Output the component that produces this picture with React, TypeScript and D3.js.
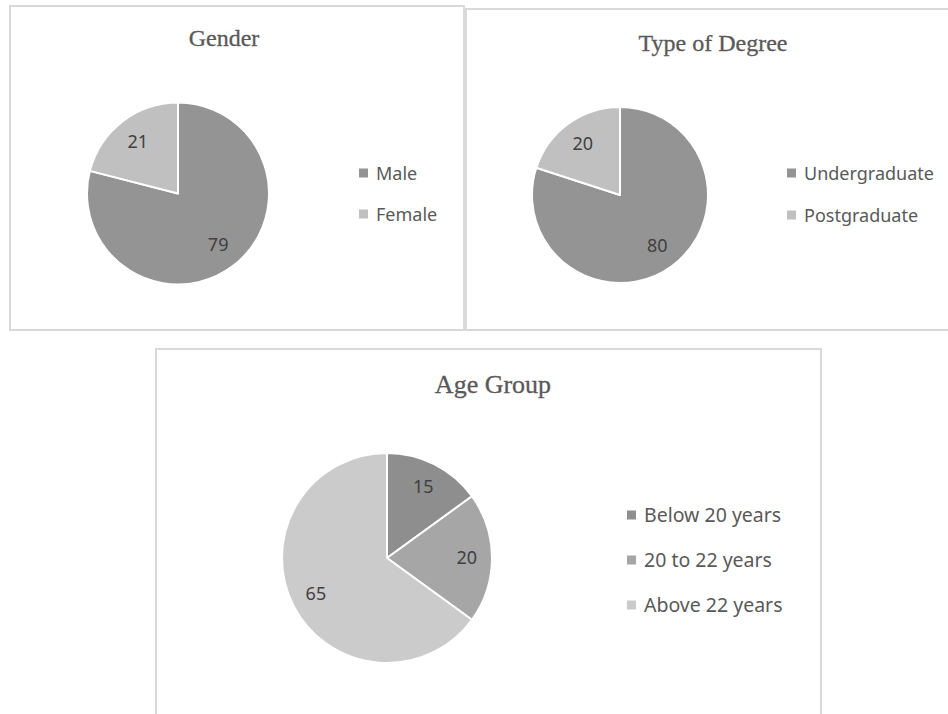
import React from "react";
import * as d3 from "d3";

const genderLabels = ["Male", "Female"];
const genderValues = [79, 21];
const degreeLabels = ["Undergraduate", "Postgraduate"];
const degreeValues = [80, 20];
const ageLabels = ["Below 20 years", "20 to 22 years", "Above 22 years"];
const ageValues = [15, 20, 65];

const twoColors = ["#949494", "#c0c0c0"];
const threeColors = ["#8e8e8e", "#a6a6a6", "#cbcbcb"];

type PieProps = {
  title: string;
  labels: string[];
  values: number[];
  colors: string[];
  box: [number, number, number, number];
  cx: number;
  cy: number;
  r: number;
  labelFactor: number;
  titleX: number;
  titleY: number;
  titleSize: number;
  legendX: number;
  legendY: number;
  legendStep: number;
  legendSize: number;
};

function PieChart(p: PieProps) {
  const pie = d3.pie<number>().sort(null).value((d) => d);
  const arcs = pie(p.values);
  const arc = d3.arc<d3.PieArcDatum<number>>().innerRadius(0).outerRadius(p.r);
  const labelArc = d3
    .arc<d3.PieArcDatum<number>>()
    .innerRadius(p.r * p.labelFactor)
    .outerRadius(p.r * p.labelFactor);
  const color = d3.scaleOrdinal<string, string>().domain(p.labels).range(p.colors);
  const [bx, by, bw, bh] = p.box;
  return (
    <g>
      <rect x={bx} y={by} width={bw} height={bh} fill="#ffffff" stroke="#d9d9d9" strokeWidth={2} />
      <text
        x={p.titleX}
        y={p.titleY}
        textAnchor="middle"
        fontFamily="'Liberation Serif', 'Times New Roman', serif"
        fontSize={p.titleSize}
        fill="#595959"
        stroke="#595959"
        strokeWidth={0.3}
      >
        {p.title}
      </text>
      <g transform={`translate(${p.cx},${p.cy})`}>
        {arcs.map((a, i) => (
          <path key={i} d={arc(a) || ""} fill={color(p.labels[i])} stroke="#ffffff" strokeWidth={2} strokeLinejoin="round" />
        ))}
        {arcs.map((a, i) => {
          const [x, y] = labelArc.centroid(a);
          return (
            <text
              key={"l" + i}
              x={x}
              y={y + 6}
              textAnchor="middle"
              fontFamily="'Noto Sans', sans-serif"
              fontSize={18}
              fill="#404040"
            >
              {p.values[i]}
            </text>
          );
        })}
      </g>
      {p.labels.map((l, i) => (
        <g key={"lg" + i} transform={`translate(${p.legendX},${p.legendY + i * p.legendStep})`}>
          <rect x={-4} y={-4.5} width={9} height={9} fill={color(l)} />
          <text
            x={13}
            y={6.5}
            fontFamily="'Noto Sans', sans-serif"
            fontSize={p.legendSize}
            fill="#595959"
          >
            {l}
          </text>
        </g>
      ))}
    </g>
  );
}

export default function App() {
  return (
    <svg
      width={948}
      height={714}
      style={{ position: "absolute", left: 0, top: 0, background: "#ffffff" }}
    >
      <rect x={0} y={0} width={948} height={714} fill="#ffffff" />
      <PieChart
        title="Gender"
        labels={genderLabels}
        values={genderValues}
        colors={twoColors}
        box={[10, 6, 454, 324]}
        cx={178}
        cy={193.5}
        r={91}
        labelFactor={0.72}
        titleX={224}
        titleY={46}
        titleSize={24}
        legendX={363}
        legendY={173}
        legendStep={41}
        legendSize={18}
      />
      <PieChart
        title="Type  of Degree"
        labels={degreeLabels}
        values={degreeValues}
        colors={twoColors}
        box={[466, 9, 500, 321]}
        cx={620}
        cy={195}
        r={88}
        labelFactor={0.72}
        titleX={713}
        titleY={51}
        titleSize={24}
        legendX={791}
        legendY={173}
        legendStep={42}
        legendSize={18}
      />
      <PieChart
        title="Age Group"
        labels={ageLabels}
        values={ageValues}
        colors={threeColors}
        box={[156, 349, 665, 400]}
        cx={387}
        cy={558}
        r={105}
        labelFactor={0.76}
        titleX={493}
        titleY={393}
        titleSize={26}
        legendX={631}
        legendY={515}
        legendStep={45}
        legendSize={19.5}
      />
    </svg>
  );
}
